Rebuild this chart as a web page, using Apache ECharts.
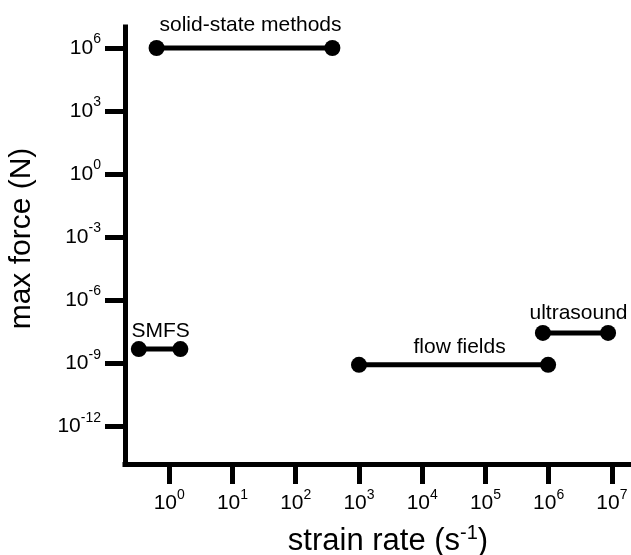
<!DOCTYPE html>
<html>
<head>
<meta charset="utf-8">
<script src="https://cdn.jsdelivr.net/npm/echarts@6/dist/echarts.min.js"></script>
<style>html,body{margin:0;padding:0;background:#fff}#c{width:631px;height:555px}</style>
</head>
<body>
<div id="c"></div>
<script>
// ---- data ----
const methodNames = ['solid-state methods', 'SMFS', 'flow fields', 'ultrasound'];
const strainRateLow = [0.63, 0.33, 1.0e3, 8.1e5];      // s^-1
const strainRateHigh = [380, 1.5, 9.8e5, 8.7e6];       // s^-1
const maxForce = [1.0e6, 4.7e-9, 8.3e-10, 2.75e-8];    // N
const xTickExponents = [0, 1, 2, 3, 4, 5, 6, 7];
const yTickExponents = [-12, -9, -6, -3, 0, 3, 6];

// ---- styles ----
const FONT = "'Liberation Sans', Arial, Helvetica, sans-serif";
const labelGap = [12, 7, 7, 9];
const labelShift = [6, 1, 6, 3];

const lg = Math.log10;
const expLabel = v => '{b|10}{s|' + v + '}';
const tickRich = {
  b: { fontSize: 21, fontFamily: FONT, color: '#000', verticalAlign: 'bottom', lineHeight: 21 },
  s: { fontSize: 14, fontFamily: FONT, color: '#000', verticalAlign: 'bottom', lineHeight: 14, padding: [0, 0, 12, 0] }
};

const series = methodNames.map((n, i) => ({
  type: 'line',
  name: n,
  data: [[lg(strainRateLow[i]), lg(maxForce[i])], [lg(strainRateHigh[i]), lg(maxForce[i])]],
  symbol: 'circle',
  symbolSize: 16,
  showSymbol: true,
  lineStyle: { color: '#000', width: 5 },
  itemStyle: { color: '#000' },
  z: 3
}));

series.push({
  type: 'scatter',
  symbolSize: 1,
  itemStyle: { color: 'rgba(0,0,0,0)' },
  silent: true,
  data: methodNames.map((n, i) => ({
    value: [(lg(strainRateLow[i]) + lg(strainRateHigh[i])) / 2, lg(maxForce[i])],
    name: n,
    label: { distance: labelGap[i], offset: [labelShift[i], 0] }
  })),
  label: {
    show: true,
    position: 'top',
    formatter: p => p.name,
    fontSize: 21,
    fontFamily: FONT,
    color: '#000',
    opacity: 1,
    textBorderWidth: 0
  },
  z: 4
});

const axisCommon = {
  type: 'value',
  splitLine: { show: false },
  axisLine: { show: true, onZero: false, lineStyle: { color: '#000', width: 5, cap: 'square' } },
};

const option = {
  animation: false,
  backgroundColor: '#fff',
  grid: { left: 125, right: 2, top: 27, bottom: 91, containLabel: false, outerBoundsMode: 'none' },
  xAxis: Object.assign({}, axisCommon, {
    min: -0.7,
    max: 7.27,
    axisTick: { show: true, customValues: xTickExponents, length: 20, lineStyle: { color: '#000', width: 5 } },
    axisLabel: { show: true, customValues: xTickExponents, margin: 29, fontSize: 21, fontFamily: FONT, color: '#000', formatter: expLabel, rich: tickRich },
    name: '{t|strain rate (s}{u|-1}{t|)}',
    nameLocation: 'middle',
    nameGap: 62,
    nameTextStyle: {
      fontSize: 31, fontFamily: FONT, color: '#000',
      padding: [0, 0, 0, 22],
      rich: {
        t: { fontSize: 31, fontFamily: FONT, color: '#000', verticalAlign: 'bottom', lineHeight: 31 },
        u: { fontSize: 20, fontFamily: FONT, color: '#000', verticalAlign: 'bottom', lineHeight: 20, padding: [0, 0, 14, 0] }
      }
    }
  }),
  yAxis: Object.assign({}, axisCommon, {
    min: -13.8,
    max: 7,
    axisTick: { show: true, customValues: yTickExponents, length: 20, lineStyle: { color: '#000', width: 5 } },
    axisLabel: { show: true, customValues: yTickExponents, margin: 24, fontSize: 21, fontFamily: FONT, color: '#000', formatter: expLabel, rich: tickRich },
    name: 'max force (N)',
    nameLocation: 'middle',
    nameRotate: 90,
    nameGap: 88,
    nameTextStyle: { fontSize: 30, fontFamily: FONT, color: '#000', padding: [0, 0, 0, 14] }
  }),
  series: series
};

const chart = echarts.init(document.getElementById('c'), null, { renderer: 'canvas' });
chart.setOption(option);
</script>
</body>
</html>
